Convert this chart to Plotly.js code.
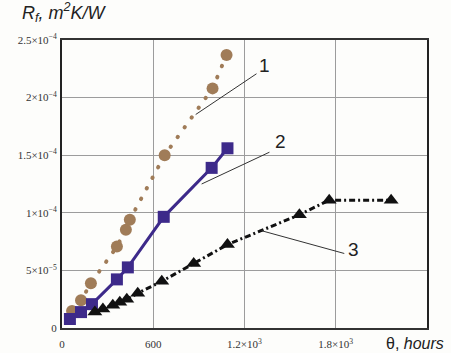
<!DOCTYPE html>
<html>
<head>
<meta charset="utf-8">
<script src="https://cdn.plot.ly/plotly-3.0.1.min.js"></script>
<style>
html,body{margin:0;padding:0;background:#fdfdfb;}
#chart{width:451px;height:353px;}
.scatterlayer .trace:nth-child(1) .js-line{stroke-linecap:round;}
</style>
</head>
<body>
<div id="chart"></div>
<script>
// Series 1 (brown circles, dotted)
const s1Hours = [66, 125, 190, 361, 420, 446, 675, 990, 1082];
const s1Rf    = [1.47e-5, 2.41e-5, 3.88e-5, 7.07e-5, 8.53e-5, 9.40e-5, 1.50e-4, 2.08e-4, 2.37e-4];
// Series 2 (purple squares, solid)
const s2Hours = [52, 125, 197, 361, 433, 669, 984, 1088];
const s2Rf    = [7.8e-6, 1.38e-5, 2.07e-5, 4.22e-5, 5.26e-5, 9.65e-5, 1.39e-4, 1.56e-4];
// Series 3 (black triangles, dash-dot)
const s3Hours = [216, 269, 334, 380, 426, 498, 656, 866, 1088, 1561, 1757, 2164];
const s3Rf    = [1.38e-5, 1.64e-5, 1.98e-5, 2.24e-5, 2.50e-5, 3.02e-5, 4.05e-5, 5.60e-5, 7.24e-5, 9.83e-5, 1.11e-4, 1.11e-4];

const xTickVals = [0, 600, 1200, 1800];
const xTickText = ['0', '600', '1.2×10<sup>3</sup>', '1.8×10<sup>3</sup>'];
const yTickVals = [0, 5e-5, 1e-4, 1.5e-4, 2e-4, 2.5e-4];
const yTickText = ['0', '5×10<sup>−5</sup>', '1×10<sup>−4</sup>', '1.5×10<sup>−4</sup>', '2×10<sup>−4</sup>', '2.5×10<sup>−4</sup>'];

const seriesLabels = ['1', '2', '3'];

const traces = [
  {x: s1Hours, y: s1Rf, mode: 'lines+markers', type: 'scatter',
   line: {color: '#a07c58', width: 4, dash: '0.5px,11.5px'},
   marker: {symbol: 'circle', size: 12, color: '#a07c58'}},
  {x: s2Hours, y: s2Rf, mode: 'lines+markers', type: 'scatter',
   line: {color: '#3d2a8a', width: 3},
   marker: {symbol: 'square', size: 12, color: '#3d2a8a'}},
  {x: s3Hours, y: s3Rf, mode: 'lines+markers', type: 'scatter',
   line: {color: '#111111', width: 3, dash: '6px,3px,2px,3px'},
   marker: {symbol: 'triangle-up', size: 13, color: '#111111'}}
];

const labelFont = {family: 'Liberation Sans, Arial, sans-serif', size: 19, color: '#222'};
const tickFont = {family: 'Liberation Serif, Times New Roman, serif', size: 11, color: '#333'};

const layout = {
  width: 451, height: 353,
  margin: {l: 62, r: 24, t: 40, b: 25, pad: 0},
  paper_bgcolor: '#fdfdfb',
  plot_bgcolor: '#fdfdfb',
  showlegend: false,
  xaxis: {
    range: [0, 2400], tickvals: xTickVals, ticktext: xTickText,
    showgrid: true, gridcolor: '#9c9c9c', gridwidth: 1,
    zeroline: false, showline: true, linecolor: '#333', linewidth: 2, mirror: true,
    ticks: '', ticklabelstandoff: 5, tickfont: tickFont
  },
  yaxis: {
    range: [0, 2.5e-4], tickvals: yTickVals, ticktext: yTickText,
    showgrid: true, gridcolor: '#9c9c9c', gridwidth: 1,
    zeroline: false, showline: true, linecolor: '#222', linewidth: 2, mirror: true,
    ticks: '', ticklabelstandoff: 1, tickfont: tickFont
  },
  shapes: [
    {type: 'line', xref: 'x', yref: 'y', x0: 879, y0: 1.853e-4, x1: 1279, y1: 2.207e-4, line: {color: '#333', width: 1}},
    {type: 'line', xref: 'x', yref: 'y', x0: 918, y0: 1.25e-4, x1: 1364, y1: 1.526e-4, line: {color: '#333', width: 1}},
    {type: 'line', xref: 'x', yref: 'y', x0: 1311, y0: 8.45e-5, x1: 1856, y1: 6.47e-5, line: {color: '#333', width: 1}}
  ],
  annotations: [
    {x: 1331, y: 2.276e-4, xref: 'x', yref: 'y', text: seriesLabels[0], showarrow: false, font: labelFont},
    {x: 1436, y: 1.62e-4, xref: 'x', yref: 'y', text: seriesLabels[1], showarrow: false, font: labelFont},
    {x: 1915, y: 6.8e-5, xref: 'x', yref: 'y', text: seriesLabels[2], showarrow: false, font: labelFont},
    {x: (20 - 62) / 365, y: (353 - 25 - 27) / 288, xref: 'paper', yref: 'paper',
     text: '<i>R<sub>f</sub>, m<sup>2</sup>K/W</i>',
     showarrow: false, xanchor: 'left', yanchor: 'bottom',
     font: {family: 'Liberation Sans, Arial, sans-serif', size: 18, color: '#222'}},
    {x: (446 - 62) / 365, y: -(343 - 328) / 288, xref: 'paper', yref: 'paper',
     text: 'θ, <i>hours</i>', showarrow: false, xanchor: 'right', yanchor: 'middle',
     font: {family: 'Liberation Sans, Arial, sans-serif', size: 16, color: '#222'}}
  ]
};

Plotly.newPlot('chart', traces, layout, {staticPlot: true, displayModeBar: false});
</script>
</body>
</html>
